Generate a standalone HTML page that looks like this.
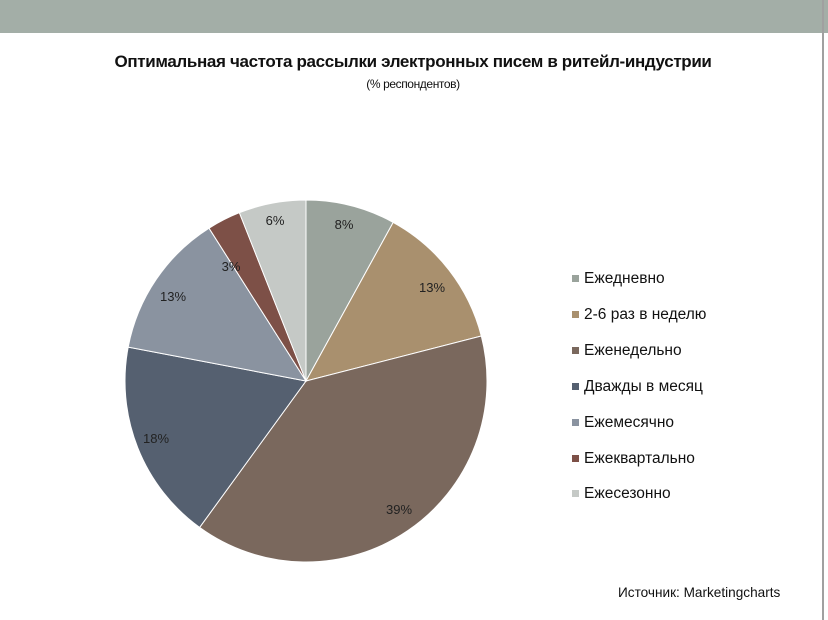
<!DOCTYPE html>
<html><head><meta charset="utf-8"><style>
body{margin:0;width:828px;height:620px;background:#fff;position:relative;overflow:hidden;font-family:"Liberation Sans",Arial,sans-serif;color:#111}
#band{position:absolute;left:0;top:0;width:828px;height:33px;background:#a3aea7}
#vl{position:absolute;left:822px;top:0;width:2px;height:620px;background:#a0a0a0}
#t{position:absolute;left:0;width:826px;top:52px;text-align:center;font-weight:bold;font-size:17px;letter-spacing:-0.35px}
#s{position:absolute;left:0;width:826px;top:77px;text-align:center;font-size:12px;letter-spacing:-0.4px}
.lg{position:absolute;left:572px;font-size:15.5px;height:18px;line-height:18px}
.lg i{display:inline-block;width:7px;height:7px;margin-right:5px;vertical-align:1px}
#src{position:absolute;left:618px;top:585px;font-size:13.6px}
</style></head><body>
<div id="band"></div><div id="vl"></div>
<div id="t">Оптимальная частота рассылки электронных писем в ритейл-индустрии</div>
<div id="s">(% респондентов)</div>
<svg id="pie" width="828" height="620" style="position:absolute;left:0;top:0"></svg>
<div class="lg" style="top:270px"><i style="background:#9aa39c"></i>Ежедневно</div>
<div class="lg" style="top:306px"><i style="background:#a9906e"></i>2-6 раз в неделю</div>
<div class="lg" style="top:342px"><i style="background:#7a685d"></i>Еженедельно</div>
<div class="lg" style="top:378px"><i style="background:#556070"></i>Дважды в месяц</div>
<div class="lg" style="top:414px"><i style="background:#8a93a0"></i>Ежемесячно</div>
<div class="lg" style="top:450px"><i style="background:#7d5047"></i>Ежеквартально</div>
<div class="lg" style="top:485px"><i style="background:#c5c9c6"></i>Ежесезонно</div>
<div id="src">Источник: Marketingcharts</div>
<script>
var v=[8,13,39,18,13,3,6],c=["#9aa39c","#a9906e","#7a685d","#556070","#8a93a0","#7d5047","#c5c9c6"];
var L=[[344,224],[432,287],[399,509],[156,438],[173,296],[231,266],[275,220]];
var cx=306,cy=381,r=181,a=0,s="";
for(var i=0;i<7;i++){var b=a+v[i]*3.6;var r1=a*Math.PI/180,r2=b*Math.PI/180;
var x1=cx+r*Math.sin(r1),y1=cy-r*Math.cos(r1),x2=cx+r*Math.sin(r2),y2=cy-r*Math.cos(r2);
s+='<path d="M'+cx+','+cy+'L'+x1+','+y1+'A'+r+','+r+' 0 '+(b-a>180?1:0)+' 1 '+x2+','+y2+'Z" fill="'+c[i]+'" stroke="#fff" stroke-width="1"/>';a=b;}
for(var i=0;i<7;i++)s+='<text x="'+L[i][0]+'" y="'+(L[i][1]+5)+'" text-anchor="middle" font-size="13" font-family="Liberation Sans,Arial,sans-serif" fill="#222">'+v[i]+'%</text>';
document.getElementById("pie").innerHTML=s;
</script>
</body></html>
